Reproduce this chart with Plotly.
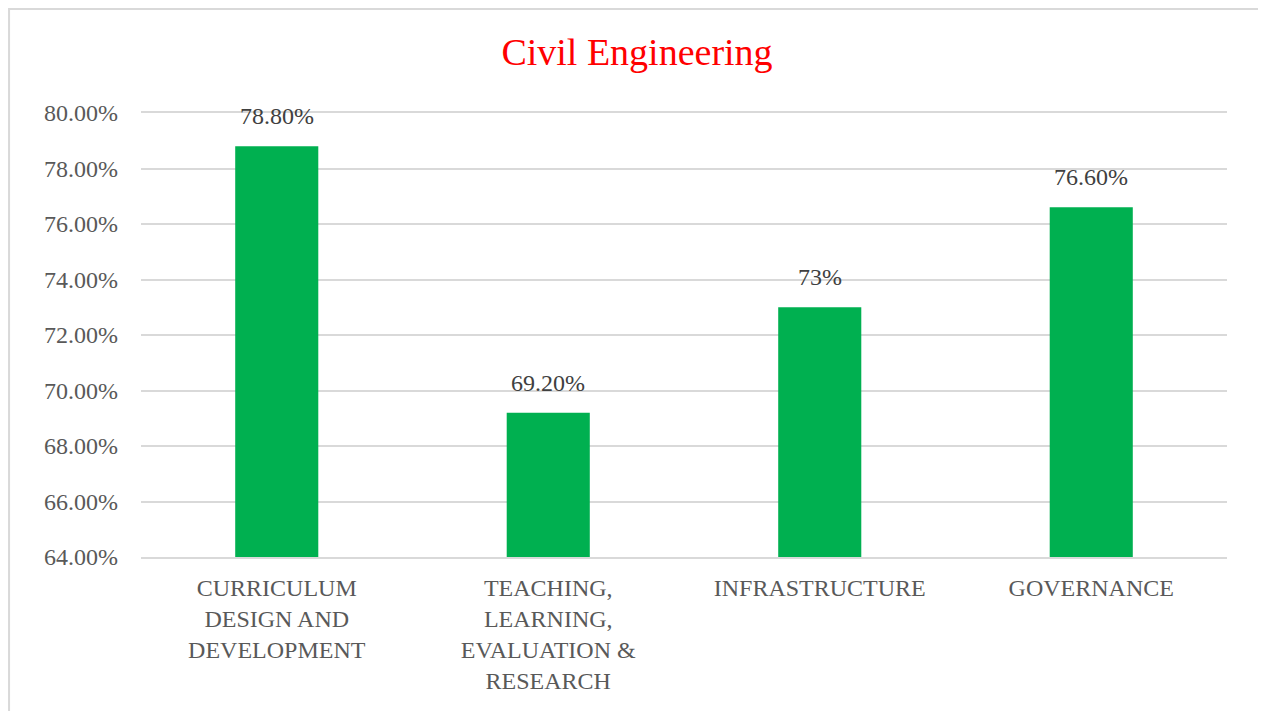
import plotly.graph_objects as go

categories = ["CURRICULUM<br>DESIGN AND<br>DEVELOPMENT",
              "TEACHING,<br>LEARNING,<br>EVALUATION &<br>RESEARCH",
              "INFRASTRUCTURE",
              "GOVERNANCE"]
values = [78.8, 69.2, 73.0, 76.6]
value_labels = ["78.80%", "69.20%", "73%", "76.60%"]
tick_vals = [64, 66, 68, 70, 72, 74, 76, 78, 80]
tick_text = ["64.00%", "66.00%", "68.00%", "70.00%", "72.00%",
             "74.00%", "76.00%", "78.00%", "80.00%"]
y_floor = 64

serif = "Liberation Serif, Times New Roman, serif"

fig = go.Figure()
fig.add_trace(go.Bar(x=categories, y=[v - y_floor for v in values],
                     base=y_floor, marker_color="#00B050",
                     marker_line_width=0))

for cat, v, lab in zip(categories, values, value_labels):
    fig.add_annotation(x=cat, y=v, text=lab, showarrow=False,
                       yanchor="bottom", yshift=15,
                       font=dict(family=serif, size=24, color="#404040"))

# page body has an 8px margin, so the figure is 8px smaller each way
fig.update_layout(
    width=1258, height=703,
    margin=dict(l=133, r=39, t=105, b=154),
    paper_bgcolor="white", plot_bgcolor="white",
    bargap=0.694,
    showlegend=False,
    title=dict(text="Civil Engineering", x=0.5, xanchor="center",
               y=1 - 44 / 703, yanchor="middle",
               font=dict(family=serif, size=38, color="#FF0000")),
    # axis line + mirror stand in for the 64% and 80% gridlines
    xaxis=dict(showgrid=False, showline=True, mirror=True,
               linecolor="#D9D9D9", linewidth=2, ticks="",
               ticklabelstandoff=8,
               tickfont=dict(family=serif, size=24, color="#595959")),
    yaxis=dict(range=[64, 80], tickvals=tick_vals, ticktext=tick_text,
               showgrid=True, gridcolor="#D9D9D9", gridwidth=2,
               zeroline=False, showline=False, ticks="",
               ticklabelstandoff=22,
               tickfont=dict(family=serif, size=24, color="#595959")),
)

fig.add_shape(type="rect", xref="paper", yref="paper",
              x0=-0.1215, x1=1.0331, y0=-0.4, y1=1.2342,
              line=dict(color="#D9D9D9", width=2), layer="below")

fig.write_html("out.html")
